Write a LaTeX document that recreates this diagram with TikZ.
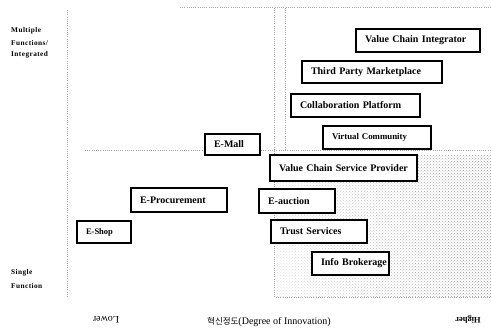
\documentclass[tikz,border=0pt]{standalone}
\usepackage{fontspec}
\setmainfont{Liberation Serif}
\newfontfamily\labfont[LetterSpace=6]{Liberation Serif}
\newfontfamily\krfont{Noto Sans CJK KR}
\usetikzlibrary{patterns,fadings}
\tikzfading[name=fadeR, left color=transparent!75, right color=transparent!0]
\tikzset{
  bx/.style={draw, line width=1.3pt, fill=white, inner xsep=9pt, inner ysep=0pt,
    align=left, font=\bfseries\fontsize{10}{11}\selectfont},
  dotln/.style={gray!70, line width=0.5pt, dash pattern=on 0.6pt off 1.6pt},
  sidelab/.style={anchor=west, inner sep=0pt, font=\labfont\bfseries\fontsize{7.3}{8}\selectfont},
  axlab/.style={inner sep=0pt}
}
\begin{document}
\begin{tikzpicture}[x=1pt,y=-1pt]
\useasboundingbox (0,0) rectangle (491,331);
% dotted texture in the lower right
\fill[pattern=crosshatch dots, pattern color=gray!85, path fading=fadeR] (276,156) rectangle (491,297);
% dotted guide lines
\draw[dotln] (67,10) -- (67,297);
\draw[dotln] (274,8) -- (274,297);
\draw[dotln] (285,8) -- (285,150);
\draw[dotln] (180,7) -- (491,7);
\draw[dotln] (85,150) -- (491,150);
\draw[dotln] (276,297) -- (491,297);
% boxes
\node[bx, minimum height=23pt, text width=106pt] (vci) at (418,40.5) {\mbox{Value Chain Integrator}};
\node[bx, minimum height=22pt, text width=122pt] (tpm) at (372,72) {\mbox{Third Party Marketplace}};
\node[bx, minimum height=23pt, text width=111pt] (cp) at (355.5,105.5) {\mbox{Collaboration Platform}};
\node[bx, minimum height=23pt, text width=90pt, font=\bfseries\fontsize{8.8}{10}\selectfont] (vc) at (377,137.5) {\mbox{Virtual Community}};
\node[bx, minimum height=21pt, text width=37pt] (emall) at (232.5,144.5) {\mbox{E-Mall}};
\node[bx, minimum height=26pt, text width=129pt] (vcsp) at (343.5,168) {\mbox{Value Chain Service Provider}};
\node[bx, minimum height=24pt, text width=78pt] (eproc) at (179,200) {\mbox{E-Procurement}};
\node[bx, minimum height=24pt, text width=58pt] (eauc) at (297,201) {\mbox{E-auction}};
\node[bx, minimum height=22pt, text width=36pt, font=\bfseries\fontsize{8.5}{10}\selectfont] (eshop) at (104,232) {\mbox{E-Shop}};
\node[bx, minimum height=23pt, text width=78pt] (trust) at (319,231.5) {\mbox{Trust Services}};
\node[bx, minimum height=23pt, text width=59pt] (info) at (350.5,263.5) {\mbox{Info Brokerage}};
% side labels
\node[sidelab] (m1) at (11,31) {Multiple};
\node[sidelab] (m2) at (11,43) {Functions/};
\node[sidelab] (m3) at (11,55) {Integrated};
\node[sidelab] (s1) at (11,273) {Single};
\node[sidelab] (s2) at (11,286) {Function};
% axis labels
\node[axlab, rotate=180, font=\fontsize{10}{12}\selectfont] (lower) at (106,320) {Lower};
\node[axlab, rotate=180, font=\bfseries\fontsize{8.5}{10}\selectfont] (higher) at (468,320) {Higher};
\node[axlab, anchor=west] (deg) at (207,322) {{\krfont\fontsize{8.5}{10}\selectfont 혁신정도}{\fontsize{10}{12}\selectfont(Degree of Innovation)}};
\end{tikzpicture}
\end{document}
